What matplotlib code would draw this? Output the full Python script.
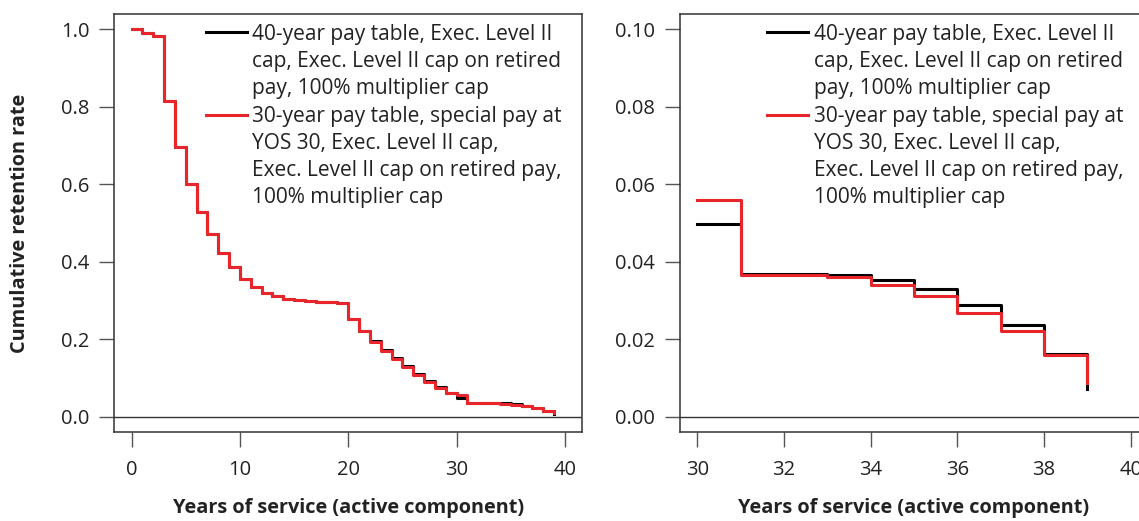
import matplotlib
matplotlib.use("Agg")
import matplotlib.pyplot as plt
from matplotlib.lines import Line2D

plt.rcParams['font.family'] = ['Open Sans', 'DejaVu Sans']

# Data
years = list(range(0, 40))
ret_40yr = [1.000, 0.990, 0.983, 0.815, 0.696, 0.601, 0.528, 0.471, 0.423, 0.386,
            0.357, 0.335, 0.320, 0.311, 0.305, 0.301, 0.299, 0.297, 0.296, 0.295,
            0.252, 0.222, 0.196, 0.172, 0.151, 0.131, 0.111, 0.093, 0.077, 0.061,
            0.0497, 0.0368, 0.0368, 0.0365, 0.0353, 0.0329, 0.0288, 0.0237, 0.0162, 0.0072]
ret_30yr = [1.000, 0.990, 0.983, 0.815, 0.696, 0.601, 0.528, 0.471, 0.423, 0.386,
            0.357, 0.335, 0.320, 0.311, 0.305, 0.301, 0.299, 0.297, 0.296, 0.295,
            0.252, 0.221, 0.194, 0.169, 0.148, 0.128, 0.108, 0.091, 0.075, 0.062,
            0.0560, 0.0365, 0.0365, 0.0362, 0.0340, 0.0311, 0.0267, 0.0222, 0.0159, 0.0086]

label_40 = "40-year pay table, Exec. Level II\ncap, Exec. Level II cap on retired\npay, 100% multiplier cap"
label_30 = ("30-year pay table, special pay at\nYOS 30, Exec. Level II cap,\n"
            "Exec. Level II cap on retired pay,\n100% multiplier cap")

left_ticks_x = [0, 10, 20, 30, 40]
left_ticks_y = [0.0, 0.2, 0.4, 0.6, 0.8, 1.0]
right_ticks_x = [30, 32, 34, 36, 38, 40]
right_ticks_y = [0.00, 0.02, 0.04, 0.06, 0.08, 0.10]

RED = '#e8252b'
BOX = '#333333'
TXT = '#222222'
W, H = 1139, 521

fig = plt.figure(figsize=(W / 100, H / 100), dpi=100)
ax1 = fig.add_axes([114.3 / W, (H - 432.3) / H, 468 / W, 418.3 / H])
ax2 = fig.add_axes([680 / W, (H - 432.3) / H, 468 / W, 418.3 / H])


def style(ax, xt, yt, xfmt, yfmt, xlim, ylim):
    ax.set_xlim(*xlim)
    ax.set_ylim(*ylim)
    ax.set_xticks(xt)
    ax.set_xticklabels([xfmt.format(v) for v in xt])
    ax.set_yticks(yt)
    ax.set_yticklabels([yfmt.format(v) for v in yt])
    for s in ax.spines.values():
        s.set_color(BOX)
        s.set_linewidth(1.1)
    ax.tick_params(axis='both', length=11, width=1.0, color='#555555',
                   labelsize=14.5, labelcolor=TXT)
    ax.tick_params(axis='x', pad=9)
    ax.tick_params(axis='y', pad=7)
    ax.axhline(0, color=BOX, lw=1.0, zorder=1)
    ax.set_xlabel("Years of service (active component)", fontsize=14.3,
                  fontweight='bold', labelpad=13, color=TXT)


def legend(ax, tx):
    tr = ax.transAxes
    y1 = (432.3 - 32) / 418.3
    y2 = (432.3 - 115) / 418.3
    ax.add_line(Line2D([tx - 0.1, tx - 0.012], [y1, y1], transform=tr,
                       color='black', lw=2.2))
    ax.add_line(Line2D([tx - 0.1, tx - 0.012], [y2, y2], transform=tr,
                       color=RED, lw=2.2))
    top1 = (432.3 - 24) / 418.3
    top2 = (432.3 - 106) / 418.3
    ax.text(tx, top1, label_40, transform=tr, fontsize=15, va='top',
            ha='left', linespacing=1.37, color=TXT)
    ax.text(tx, top2, label_30, transform=tr, fontsize=15, va='top',
            ha='left', linespacing=1.37, color=TXT)


# left panel: full career
ax1.plot(years, ret_40yr, drawstyle='steps-post', color='black', lw=2.2)
ax1.plot(years, ret_30yr, drawstyle='steps-post', color=RED, lw=2.2)
style(ax1, left_ticks_x, left_ticks_y, "{:d}", "{:.1f}", (-1.6, 41.6), (-0.04, 1.04))
ax1.set_ylabel("Cumulative retention rate", fontsize=14.3, fontweight='bold',
               labelpad=22, color=TXT)

# right panel: YOS 30 and beyond
i30 = years.index(30)
ax2.plot(years[i30:], ret_40yr[i30:], drawstyle='steps-post', color='black', lw=2.2)
ax2.plot(years[i30:], ret_30yr[i30:], drawstyle='steps-post', color=RED, lw=2.2)
style(ax2, right_ticks_x, right_ticks_y, "{:d}", "{:.2f}", (29.6, 40.4), (-0.004, 0.104))

legend(ax1, 0.295)
legend(ax2, 0.286)

fig.savefig("out.png", dpi=100)
